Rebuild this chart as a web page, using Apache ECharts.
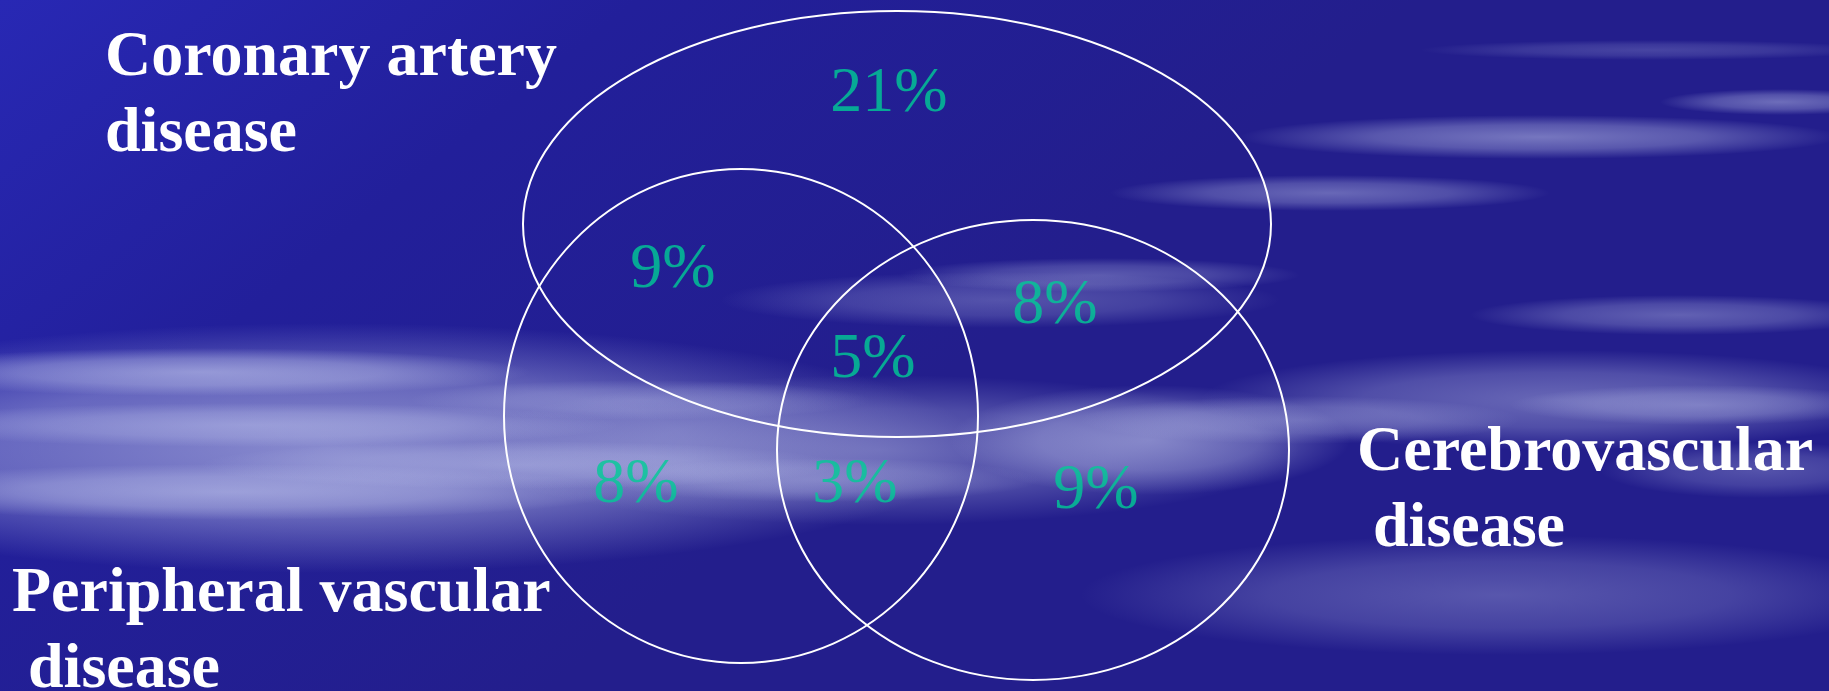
<!DOCTYPE html>
<html><head><meta charset="utf-8">
<script src="https://cdn.jsdelivr.net/npm/echarts@6/dist/echarts.min.js"></script>
<style>html,body{margin:0;padding:0;background:#2222a0;overflow:hidden}#c{width:1829px;height:691px}</style>
</head><body><div id="c"></div>
<script>
// ---- data ----
const setNames = ['Coronary artery\ndisease', 'Cerebrovascular\n disease', 'Peripheral vascular\n disease'];
const regionNames = ['CAD only', 'CAD + PVD', 'CAD + CVD', 'All three', 'PVD only', 'PVD + CVD', 'CVD only'];
const regionValues = [21, 9, 8, 5, 8, 3, 9];

// ---- layout (in the hidden axes' pixel-like units) ----
const setShapes = [[897, 224, 374, 213], [1033, 450, 256, 230], [741, 416, 237, 247]];
const setLabelAnchors = [[105, 20], [1357, 415], [12, 556]];
const regionAnchors = [[889, 94], [673, 270], [1055, 306], [873, 360], [636, 485], [855, 485], [1096, 491]];

// ---- background decoration (cloud streaks): cx, cy, rx, ry, opacity ----
const streaks = [
  [330, 448, 650, 125, 0.62], [880, 450, 420, 75, 0.40], [1150, 440, 200, 55, 0.50],
  [1560, 400, 360, 50, 0.42], [1500, 595, 420, 60, 0.32], [1000, 300, 280, 28, 0.30],
  [200, 372, 330, 24, 0.55], [250, 425, 370, 22, 0.40], [230, 492, 390, 28, 0.50],
  [520, 465, 320, 24, 0.38], [640, 400, 230, 20, 0.30], [820, 480, 220, 22, 0.30],
  [1680, 315, 210, 20, 0.38], [1540, 137, 300, 22, 0.50], [1330, 193, 220, 18, 0.42],
  [1780, 102, 120, 13, 0.45], [1650, 50, 230, 10, 0.22], [1100, 275, 200, 17, 0.34],
  [1760, 470, 160, 28, 0.30], [1300, 420, 220, 24, 0.34], [1700, 405, 190, 20, 0.36]
];

function cloud(s) {
  const c = 'rgba(200,206,242,';
  return {
    type: 'circle', silent: true, x: s[0], y: s[1], scaleX: s[2] / s[3],
    shape: { cx: 0, cy: 0, r: s[3] },
    style: { fill: { type: 'radial', x: 0.5, y: 0.5, r: 0.5,
      colorStops: [{ offset: 0, color: c + s[4] + ')' }, { offset: 0.55, color: c + (s[4] * 0.65).toFixed(3) + ')' }, { offset: 1, color: c + '0)' }] } }
  };
}

const chart = echarts.init(document.getElementById('c'), null, { renderer: 'canvas' });
const option = {
  animation: false,
  graphic: [
    { type: 'rect', silent: true, z: -10, shape: { x: 0, y: 0, width: 1829, height: 691 },
      style: { fill: { type: 'linear', x: 0, y: 0, x2: 0.3, y2: 1,
        colorStops: [{ offset: 0, color: '#2828b4' }, { offset: 0.45, color: '#221f9a' }, { offset: 1, color: '#231e8c' }] } } },
    { type: 'group', silent: true, z: -9, children: streaks.map(cloud) }
  ],
  grid: { left: 0, right: 0, top: 0, bottom: 0 },
  xAxis: { type: 'value', min: 0, max: 1829, show: false },
  yAxis: { type: 'value', min: 0, max: 691, inverse: true, show: false },
  series: [
    {
      type: 'custom', name: 'sets', silent: true, clip: false,
      data: setNames.map((n, i) => ({ name: n, value: setShapes[i] })),
      renderItem: function (params, api) {
        const i = params.dataIndex;
        const s = setShapes[i];
        const c = api.coord([s[0], s[1]]);
        const sz = api.size([s[2], s[3]]);
        const a = api.coord(setLabelAnchors[i]);
        return { type: 'group', children: [
          { type: 'ellipse', shape: { cx: c[0], cy: c[1], rx: Math.abs(sz[0]), ry: Math.abs(sz[1]) },
            style: { fill: 'none', stroke: '#ffffff', lineWidth: 2 } },
          { type: 'text', x: a[0], y: a[1],
            style: { text: setNames[i], fill: '#ffffff', font: 'bold 64px "Liberation Serif", "Times New Roman", serif',
              lineHeight: 76, verticalAlign: 'top', align: 'left' } }
        ] };
      }
    },
    {
      type: 'scatter', name: 'regions', silent: true, symbolSize: 0,
      data: regionValues.map((v, i) => ({ name: regionNames[i], value: [regionAnchors[i][0], regionAnchors[i][1], v] })),
      label: {
        show: true, position: 'inside',
        formatter: p => p.value[2] + '%',
        color: '#00cc96', fontSize: 64, fontFamily: '"Liberation Serif", "Times New Roman", serif'
      }
    }
  ]
};
chart.setOption(option);
</script>
</body></html>
